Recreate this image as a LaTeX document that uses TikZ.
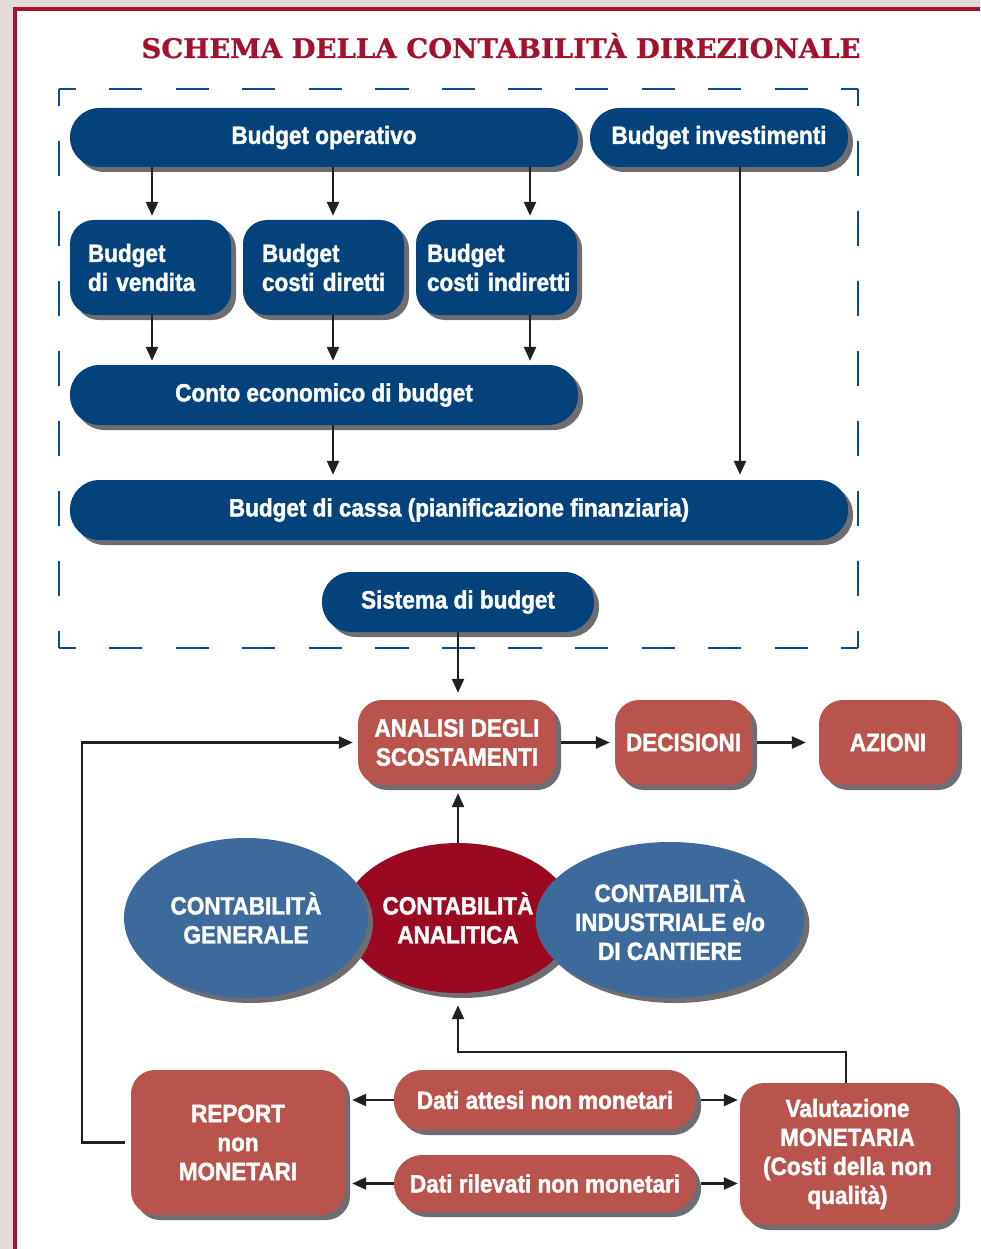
\documentclass[tikz,border=0pt]{standalone}
\usepackage{fontspec}
\usetikzlibrary{arrows.meta,shapes.geometric,shadows}
\newfontfamily\condfont[FakeStretch=0.9,FakeBold=1.6]{Liberation Sans}
\newfontfamily\titlefont[FakeStretch=1.02,FakeBold=0.8]{DejaVu Serif}
\definecolor{outerbg}{HTML}{E4DAD7}
\definecolor{borderred}{HTML}{A8102C}
\definecolor{titlered}{HTML}{A3122D}
\definecolor{dashblue}{HTML}{0D4C8A}
\definecolor{darkblue}{HTML}{03427B}
\definecolor{midblue}{HTML}{3D6A9C}
\definecolor{deepred}{HTML}{9B0821}
\definecolor{boxred}{HTML}{B8544C}
\definecolor{shgray}{HTML}{6E6E72}
\definecolor{arrowcol}{HTML}{231F20}
\begin{document}
\begin{tikzpicture}[x=1pt,y=-1pt,
  lbl/.style={text=white, font=\condfont\bfseries\fontsize{25}{29}\selectfont, align=center, inner sep=0pt},
  shad/.style={drop shadow={shadow xshift=5pt,shadow yshift=-5pt,fill=shgray,opacity=1}},
  pill/.style={lbl, shad, rectangle, rounded corners=29.5pt, fill=darkblue, minimum height=59pt},
  bluebox/.style={lbl, shad, rectangle, rounded corners=24pt, fill=darkblue, minimum height=95pt, minimum width=161pt, text width=#1, align=left},
  redbox/.style={lbl, shad, rectangle, rounded corners=24pt, fill=boxred},
  redpill/.style={lbl, shad, rectangle, rounded corners=28.5pt, fill=boxred, minimum width=302pt},
  blob/.style={lbl, shad, ellipse},
  arr/.style={draw=arrowcol, line width=2.4pt, -{Triangle[length=14pt,width=12pt]}},
  dashside/.style={draw=dashblue, line width=2.6pt}
]
% background and frame
\fill[outerbg] (0,0) rectangle (980,1249);
\useasboundingbox (0,0) rectangle (980,1249);
\fill[white] (15,9) rectangle (980,1249);
\draw[borderred, line width=3.6pt] (15,1249) -- (15,9.2) -- (980,9.2);

% title
\node[font=\titlefont\bfseries\fontsize{27}{30}\selectfont, text=titlered, anchor=base, inner sep=0pt] (title) at (501,58) {SCHEMA DELLA CONTABILITÀ DIREZIONALE};

% dashed frame of the budget system
\draw[dashside, dash pattern=on 33.29pt off 33.29pt, dash phase=16.65pt] (59,89) -- (858,89);
\draw[dashside, dash pattern=on 33.29pt off 33.29pt, dash phase=16.65pt] (59,648) -- (858,648);
\draw[dashside, dash pattern=on 34.94pt off 34.94pt, dash phase=17.47pt] (59,89) -- (59,648);
\draw[dashside, dash pattern=on 34.94pt off 34.94pt, dash phase=17.47pt] (858,89) -- (858,648);

% budget nodes
\node[pill, minimum width=508pt] (bop) at (324,137.5) {Budget operativo};
\node[pill, minimum width=258pt] (binv) at (719,137.5) {Budget investimenti};
\node[bluebox=125pt] (bv) at (150.5,267.5) {Budget\\\mbox{di vendita}};
\node[bluebox=123pt] (bcd) at (323.5,267.5) {Budget\\\mbox{costi diretti}};
\node[bluebox=139pt] (bci) at (496.5,267.5) {Budget\\\mbox{costi indiretti}};
\node[pill, minimum width=508pt, minimum height=60pt] (ce) at (324,395) {Conto economico di budget};
\node[pill, minimum width=778pt, minimum height=60pt] (bc) at (459,510) {Budget di cassa (pianificazione finanziaria)};
\node[pill, minimum width=272pt, minimum height=60pt] (sb) at (458,602) {Sistema di budget};

% budget arrows
\draw[arr, shorten >=4pt] ([xshift=1.5pt]bv.north |- bop.south) -- ([xshift=1.5pt]bv.north);
\draw[arr, shorten >=4pt] ([xshift=9.5pt]bcd.north |- bop.south) -- ([xshift=9.5pt]bcd.north);
\draw[arr, shorten >=4pt] ([xshift=33.5pt]bci.north |- bop.south) -- ([xshift=33.5pt]bci.north);
\draw[arr, shorten >=4pt] ([xshift=1.5pt]bv.south) -- ([xshift=1.5pt]bv.south |- ce.north);
\draw[arr, shorten >=4pt] ([xshift=9.5pt]bcd.south) -- ([xshift=9.5pt]bcd.south |- ce.north);
\draw[arr, shorten >=4pt] ([xshift=33.5pt]bci.south) -- ([xshift=33.5pt]bci.south |- ce.north);
\draw[arr, shorten >=5pt] ([xshift=9pt]ce.south) -- ([xshift=9pt]ce.south |- bc.north);
\draw[arr, shorten >=5pt] ([xshift=21pt]binv.south) -- ([xshift=21pt]binv.south |- bc.north);

% analysis row
\node[redbox, minimum width=198pt, minimum height=85pt] (an) at (457,742.5) {ANALISI DEGLI\\SCOSTAMENTI};
\node[redbox, minimum width=137pt, minimum height=85pt] (dec) at (683.5,742.5) {DECISIONI};
\node[redbox, minimum width=138pt, minimum height=85pt] (az) at (888,742.5) {AZIONI};

\draw[arr, shorten >=7pt] ([xshift=1pt]an.north |- sb.south) -- ([xshift=1pt]an.north);
\draw[arr, shorten <=5pt, shorten >=5pt] (an.east) -- (dec.west);
\draw[arr, shorten <=5pt, shorten >=13pt] (dec.east) -- (az.west);

% accounting ellipses
\node[blob, fill=deepred, minimum width=230pt, minimum height=150pt] (ca) at (458,918) {CONTABILITÀ\\ANALITICA};
\node[blob, fill=midblue, minimum width=244pt, minimum height=160pt] (cg) at (246,918) {CONTABILITÀ\\GENERALE};
\node[blob, fill=midblue, minimum width=244pt, minimum height=156pt] (ci) at (670,920) {CONTABILITÀ\\INDUSTRIALE e/o\\DI CANTIERE};

\draw[arr, shorten >=8pt] (ca.north) -- (ca.north |- an.south);

% bottom row
\node[redbox, minimum width=214pt, minimum height=145pt] (rep) at (238,1142.5) {REPORT\\non\\MONETARI};
\node[redpill, minimum height=60pt] (da) at (545,1100) {Dati attesi non monetari};
\node[redpill, minimum height=57pt] (dr) at (545,1183.5) {Dati rilevati non monetari};
\node[redbox, minimum width=215pt, minimum height=142pt] (val) at (847.5,1154) {Valutazione\\MONETARIA\\(Costi della non\\qualità)};

\draw[arr, shorten >=7pt] (da.west) -- (da.west -| rep.east);
\draw[arr, shorten >=7pt] (dr.west) -- (dr.west -| rep.east);
\draw[arr, shorten <=5pt, shorten >=2pt] (da.east) -- (da.east -| val.west);
\draw[arr, shorten <=5pt, shorten >=2pt] (dr.east) -- (dr.east -| val.west);

% feedback loops
\draw[arr, shorten >=12pt] ([xshift=-1.5pt]val.north) -- ++(0,-31) -| (ca.south);
\draw[arr, shorten <=6pt, shorten >=5pt] (rep.west) -- ++(-49,0) |- (an.west);
\end{tikzpicture}
\end{document}
